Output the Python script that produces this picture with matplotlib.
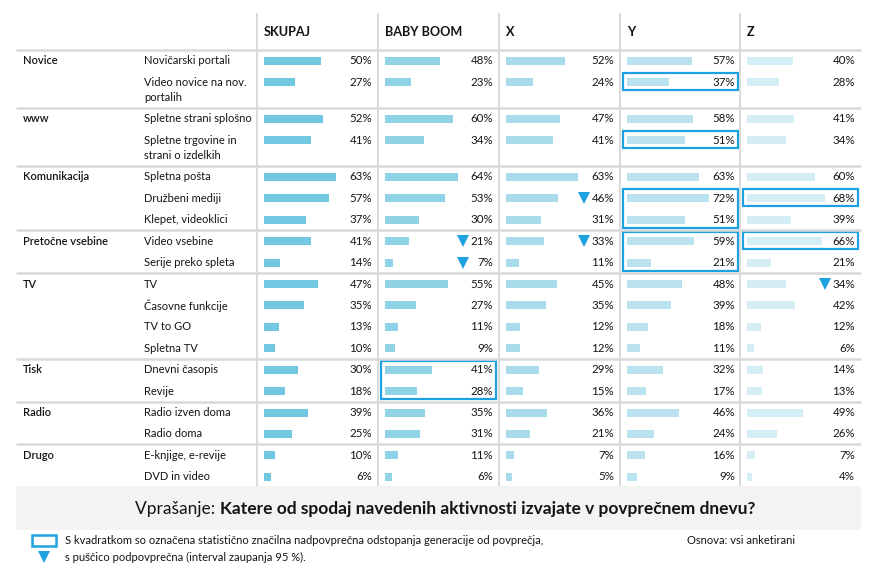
import matplotlib
matplotlib.use("Agg")
import matplotlib.pyplot as plt
from matplotlib.patches import Rectangle

# ---------------- data ----------------
columns = ["SKUPAJ", "BABY BOOM", "X", "Y", "Z"]
groups = ["Novice", "www", "Komunikacija", "Pretočne vsebine", "TV", "Tisk", "Radio", "Drugo"]
group_items = [
    ["Novičarski portali", "Video novice na nov.\nportalih"],
    ["Spletne strani splošno", "Spletne trgovine in\nstrani o izdelkih"],
    ["Spletna pošta", "Družbeni mediji", "Klepet, videoklici"],
    ["Video vsebine", "Serije preko spleta"],
    ["TV", "Časovne funkcije", "TV to GO", "Spletna TV"],
    ["Dnevni časopis", "Revije"],
    ["Radio izven doma", "Radio doma"],
    ["E-knjige, e-revije", "DVD in video"],
]
skupaj    = [50, 27, 52, 41, 63, 57, 37, 41, 14, 47, 35, 13, 10, 30, 18, 39, 25, 10, 6]
baby_boom = [48, 23, 60, 34, 64, 53, 30, 21, 7, 55, 27, 11, 9, 41, 28, 35, 31, 11, 6]
gen_x     = [52, 24, 47, 41, 63, 46, 31, 33, 11, 45, 35, 12, 12, 29, 15, 36, 21, 7, 5]
gen_y     = [57, 37, 58, 51, 63, 72, 51, 59, 21, 48, 39, 18, 11, 32, 17, 46, 24, 16, 9]
gen_z     = [40, 28, 41, 34, 60, 68, 39, 66, 21, 34, 42, 12, 6, 14, 13, 49, 26, 7, 4]
values = [skupaj, baby_boom, gen_x, gen_y, gen_z]

# significantly above average: (column index, first row, last row)
above_boxes = [(3, 1, 1), (3, 3, 3), (3, 5, 6), (3, 7, 8), (4, 5, 5), (4, 7, 7), (1, 13, 14)]
# significantly below average: (column index, row)
below_marks = [(1, 7), (1, 8), (2, 5), (2, 7), (4, 9)]

question_lead = "Vprašanje: "
question_bold = "Katere od spodaj navedenih aktivnosti izvajate v povprečnem dnevu?"
legend_line1 = "S kvadratkom so označena statistično značilna nadpovprečna odstopanja generacije od povprečja,"
legend_line2 = "s puščico podpovprečna (interval zaupanja 95 %)."
base_note = "Osnova: vsi anketirani"

# ---------------- style ----------------
FONT = "Lato"
bar_colors = ["#72C7E1", "#90D3E7", "#A9DCEB", "#BAE3EF", "#D5EEF5"]
grid_color = "#D9D9D9"
accent = "#1DA1E0"
text_color = "#141414"

W, H = 886, 584
fig = plt.figure(figsize=(W / 100, H / 100), dpi=100)
ax = fig.add_axes([0, 0, 1, 1])
ax.set_xlim(0, W)
ax.set_ylim(H, 0)
ax.axis("off")
renderer = fig.canvas.get_renderer()


def text_width(s, size, weight="normal"):
    t = ax.text(0, 0, s, fontsize=size, family=FONT, weight=weight)
    w = t.get_window_extent(renderer).width
    t.remove()
    return w


def fit_size(sample, target_px, weight="normal", base=10):
    return base * target_px / text_width(sample, base, weight)


fs_item = fit_size("Spletne strani splošno", 107)
fs_pct = fs_item * 1.04
fs_group = fs_item
fs_head = fit_size("SKUPAJ", 47, "bold")
fs_leg = fit_size(legend_line1, 477)

# ---------------- layout ----------------
col_left = [257, 378, 499, 620, 740]
x_left, x_right = 16, 861
top_y, header_line = 13, 50
pitch, line2 = 21.4, 15

row_y, seps, group_first = [], [], []
y = header_line + 11
for items in group_items:
    group_first.append(len(row_y))
    last = y
    for it in items:
        row_y.append(y)
        last = y + (line2 if "\n" in it else 0)
        y += pitch
    sep = last + 10.5
    seps.append(sep)
    y = sep + 11
table_bottom = row_y[-1] + 9

# grid lines
ax.plot([x_left, x_right], [header_line, header_line], color=grid_color, lw=1.8, solid_capstyle="butt")
for s in seps[:-1]:
    ax.plot([x_left, x_right], [s, s], color=grid_color, lw=1.8, solid_capstyle="butt")
for L in col_left:
    ax.plot([L, L], [top_y, table_bottom], color=grid_color, lw=1.4, solid_capstyle="butt")

# headers
for L, name in zip(col_left, columns):
    ax.text(L + 7, 32, name, fontsize=fs_head, family=FONT, weight="bold",
            va="center", ha="left", color=text_color)

# group and item labels
all_items = [it for items in group_items for it in items]
for g, idx in zip(groups, group_first):
    ax.text(23, row_y[idx], g, fontsize=fs_group, family=FONT, weight="semibold",
            va="center", color=text_color)
for yy, it in zip(row_y, all_items):
    lines = it.split("\n")
    for k, ln in enumerate(lines):
        ax.text(144, yy + k * line2, ln, fontsize=fs_item, family=FONT, va="center", color=text_color)

# bars + values
px_per_pct = 1.14
for ci, (L, vals) in enumerate(zip(col_left, values)):
    ax.barh(row_y, [v * px_per_pct for v in vals], left=L + 7, height=8,
            color=bar_colors[ci], edgecolor="none")
    for yy, v in zip(row_y, vals):
        ax.text(L + 115, yy, f"{v}%", fontsize=fs_pct, family=FONT, ha="right",
                va="center", color=text_color)

# above-average boxes
for ci, r0, r1 in above_boxes:
    L = col_left[ci]
    y0, y1 = row_y[r0] - 9, row_y[r1] + 8
    ax.add_patch(Rectangle((L + 3, y0), 115, y1 - y0, fill=False, edgecolor=accent, lw=1.6))

# below-average triangles
for ci, r in below_marks:
    ax.plot(col_left[ci] + 85, row_y[r], marker="v", markersize=8, color=accent,
            markeredgewidth=0, linestyle="none")

# question box
ax.add_patch(Rectangle((x_left, table_bottom), x_right - x_left, 530 - table_bottom,
                       facecolor="#F3F3F3", edgecolor="none", zorder=0))
base_q = 10
wq = text_width(question_lead, base_q) + text_width(question_bold, base_q, "bold")
fs_q = base_q * 619 / wq
t1 = ax.text(0, 509, question_lead, fontsize=fs_q, family=FONT, va="center", color=text_color)
t2 = ax.text(0, 509, question_bold, fontsize=fs_q, family=FONT, weight="bold", va="center", color=text_color)
w1 = t1.get_window_extent(renderer).width
w2 = t2.get_window_extent(renderer).width
x0 = 445 - (w1 + w2) / 2
t1.set_x(x0)
t2.set_x(x0 + w1)

# legend
ax.add_patch(Rectangle((32, 535), 24, 11, fill=False, edgecolor=accent, lw=1.8))
ax.plot(44, 557, marker="v", markersize=8, color=accent, markeredgewidth=0, linestyle="none")
ax.text(65, 541, legend_line1, fontsize=fs_leg, family=FONT, va="center", color=text_color)
ax.text(65, 557, legend_line2, fontsize=fs_leg, family=FONT, va="center", color=text_color)
ax.text(687, 541, base_note, fontsize=fs_leg, family=FONT, va="center", color=text_color)

fig.savefig("out.png", dpi=100)
